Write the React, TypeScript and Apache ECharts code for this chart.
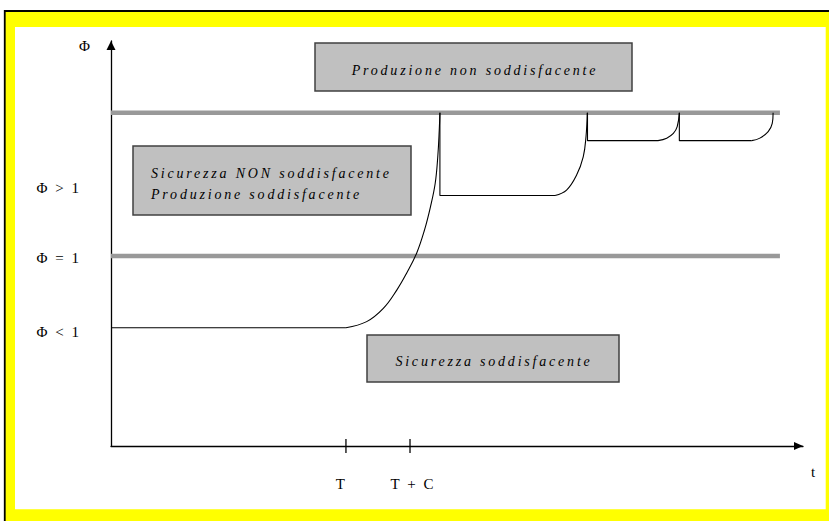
import React, { useEffect, useRef } from 'react';
import * as echarts from 'echarts';

// ---- axis domain ----
const T = 11;
const C = 3;
const xMax = 32.4;
const yMin = 0.47;
const yMax = 1.6;

// ---- tick labels ----
const xTickValues = [T, T + C];
const xTickLabels = ['T', 'T + C'];
const yTickValues = [0.787, 0.994, 1.19];
const yTickLabels = ['Φ < 1', 'Φ = 1', 'Φ > 1'];

// ---- threshold lines (Φ = 1 and upper production limit) ----
const thresholdLevels = [1.0, 1.4];
const thresholdEnd = 31.32;

// ---- Φ(t) curve, segment by segment ----
const flat0 = [[0, 0.8], [11, 0.8]];
const rise1 = [
  [11, 0.8], [11.97, 0.817], [12.75, 0.854], [13.38, 0.905], [13.84, 0.952],
  [14.31, 1.008], [14.68, 1.073], [14.96, 1.138], [15.18, 1.203], [15.3, 1.277],
  [15.37, 1.352], [15.4, 1.4],
];
const drop1 = [[15.4, 1.4], [15.4, 1.169], [20.79, 1.169]];
const rise2 = [[20.79, 1.169], [21.33, 1.184], [21.8, 1.226], [22.11, 1.277], [22.24, 1.333], [22.3, 1.4]];
const drop2 = [[22.31, 1.4], [22.31, 1.322], [25.61, 1.322]];
const rise3 = [[25.61, 1.322], [26.02, 1.329], [26.33, 1.342], [26.51, 1.361], [26.61, 1.4]];
const drop3 = [[26.61, 1.4], [26.61, 1.322], [30.0, 1.322]];
const rise4 = [[30.0, 1.322], [30.38, 1.329], [30.77, 1.347], [30.96, 1.37], [31.0, 1.4]];

const straightSegments = [flat0, drop1, drop2, drop3];
const risingSegments = [rise1, rise2, rise3, rise4];

const SERIF = '"Liberation Serif", "Times New Roman", serif';

function nearestIndex(values: number[], v: number) {
  let best = 0;
  for (let i = 1; i < values.length; i++) {
    if (Math.abs(values[i] - v) < Math.abs(values[best] - v)) best = i;
  }
  return best;
}

export default function App() {
  const ref = useRef<HTMLDivElement>(null);

  useEffect(() => {
    if (!ref.current) return;
    const chart = echarts.init(ref.current, undefined, { renderer: 'svg' });

    const curveStyle = { color: '#000', width: 1.1 };
    const series: any[] = [];
    thresholdLevels.forEach((lvl) => {
      series.push({
        type: 'line',
        data: [[0, lvl], [thresholdEnd, lvl]],
        showSymbol: false,
        silent: true,
        lineStyle: { color: '#999999', width: 4.5, cap: 'butt' },
        z: 1,
      });
    });
    straightSegments.forEach((seg) => {
      series.push({
        type: 'line', data: seg, showSymbol: false, silent: true, smooth: false,
        lineStyle: curveStyle, z: 3,
      });
    });
    risingSegments.forEach((seg) => {
      series.push({
        type: 'line', data: seg, showSymbol: false, silent: true, smooth: 0.4,
        lineStyle: curveStyle, z: 3,
      });
    });
    series.push({
      type: 'scatter',
      data: xTickValues.map((v) => [v, yMin]),
      symbol: 'rect',
      symbolSize: [1.6, 14],
      itemStyle: { color: '#000' },
      clip: false,
      silent: true,
      z: 5,
    });

    const boxStyle = { fill: '#c0c0c0', stroke: '#404040', lineWidth: 1.5 };
    const boxFont = `italic 14px ${SERIF}`;

    chart.setOption({
      animation: false,
      grid: { left: 111, right: 26, top: 41, bottom: 75 },
      xAxis: {
        type: 'value',
        min: 0,
        max: xMax,
        axisLine: {
          show: true,
          onZero: false,
          lineStyle: { color: '#000', width: 1.3 },
          symbol: ['none', 'triangle'],
          symbolSize: [8, 9],
          symbolOffset: [0, -4.5],
        },
        axisTick: { show: false },
        splitLine: { show: false },
        axisLabel: {
          customValues: xTickValues,
          margin: 30,
          formatter: (v: number) => {
            const i = nearestIndex(xTickValues, v);
            return `{l${i}|${xTickLabels[i]}}`;
          },
          rich: {
            l0: { fontFamily: SERIF, fontSize: 15, color: '#000', padding: [0, 11, 0, 0] },
            l1: { fontFamily: SERIF, fontSize: 15, color: '#000', padding: [0, 0, 0, 6] },
          },
        },
        name: 't',
        nameLocation: 'end',
        nameGap: 8,
        nameTextStyle: {
          fontFamily: SERIF, fontSize: 15, color: '#000',
          align: 'left', verticalAlign: 'top', padding: [18, 0, 0, 0],
        },
      },
      yAxis: {
        type: 'value',
        min: yMin,
        max: yMax,
        axisLine: {
          show: true,
          onZero: false,
          lineStyle: { color: '#000', width: 1.3 },
          symbol: ['none', 'triangle'],
          symbolSize: [9, 9],
          symbolOffset: [0, -4.5],
        },
        axisTick: { show: false },
        splitLine: { show: false },
        axisLabel: {
          customValues: yTickValues,
          margin: 30,
          fontFamily: SERIF,
          fontSize: 15,
          color: '#000',
          formatter: (v: number) => yTickLabels[nearestIndex(yTickValues, v)],
        },
        name: 'Φ',
        nameLocation: 'end',
        nameGap: -5,
        nameTextStyle: {
          fontFamily: SERIF, fontSize: 15, color: '#000',
          align: 'right', verticalAlign: 'middle', padding: [0, 21, 0, 0],
        },
      },
      graphic: [
        {
          type: 'rect', z: -10, silent: true,
          shape: { x: 4.75, y: 11, width: 900, height: 600 },
          style: { fill: '#ffff00', stroke: '#000', lineWidth: 1.8 },
        },
        {
          type: 'rect', z: -9, silent: true,
          shape: { x: 15, y: 27, width: 810.7, height: 482.3 },
          style: { fill: '#ffffff' },
        },
        { type: 'rect', z: 6, silent: true, shape: { x: 315, y: 43, width: 317, height: 48 }, style: boxStyle },
        {
          type: 'text', z: 7, silent: true, x: 475, y: 70,
          style: { text: 'Produzione non soddisfacente', font: boxFont, fill: '#000', align: 'center', verticalAlign: 'middle' },
        },
        { type: 'rect', z: 6, silent: true, shape: { x: 133, y: 146, width: 278, height: 69 }, style: boxStyle },
        {
          type: 'text', z: 7, silent: true, x: 151, y: 173.3,
          style: { text: 'Sicurezza NON soddisfacente', font: boxFont, fill: '#000', align: 'left', verticalAlign: 'middle' },
        },
        {
          type: 'text', z: 7, silent: true, x: 151, y: 194.3,
          style: { text: 'Produzione soddisfacente', font: boxFont, fill: '#000', align: 'left', verticalAlign: 'middle' },
        },
        { type: 'rect', z: 6, silent: true, shape: { x: 367, y: 335, width: 252, height: 47 }, style: boxStyle },
        {
          type: 'text', z: 7, silent: true, x: 494, y: 361.3,
          style: { text: 'Sicurezza soddisfacente', font: boxFont, fill: '#000', align: 'center', verticalAlign: 'middle' },
        },
      ],
      series,
    });

    const applySpacing = () => {
      const el = ref.current;
      if (!el) return;
      el.querySelectorAll('text').forEach((t) => {
        const s = t.textContent || '';
        if (s.length < 2) return;
        const st = t.getAttribute('style') || '';
        t.setAttribute('letter-spacing', st.indexOf('italic') >= 0 ? '2.8' : '2');
      });
    };
    applySpacing();
    chart.on('finished', applySpacing);

    return () => {
      chart.dispose();
    };
  }, []);

  return (
    <div
      ref={ref}
      style={{ position: 'absolute', left: 0, top: 0, width: 829, height: 521 }}
    />
  );
}
